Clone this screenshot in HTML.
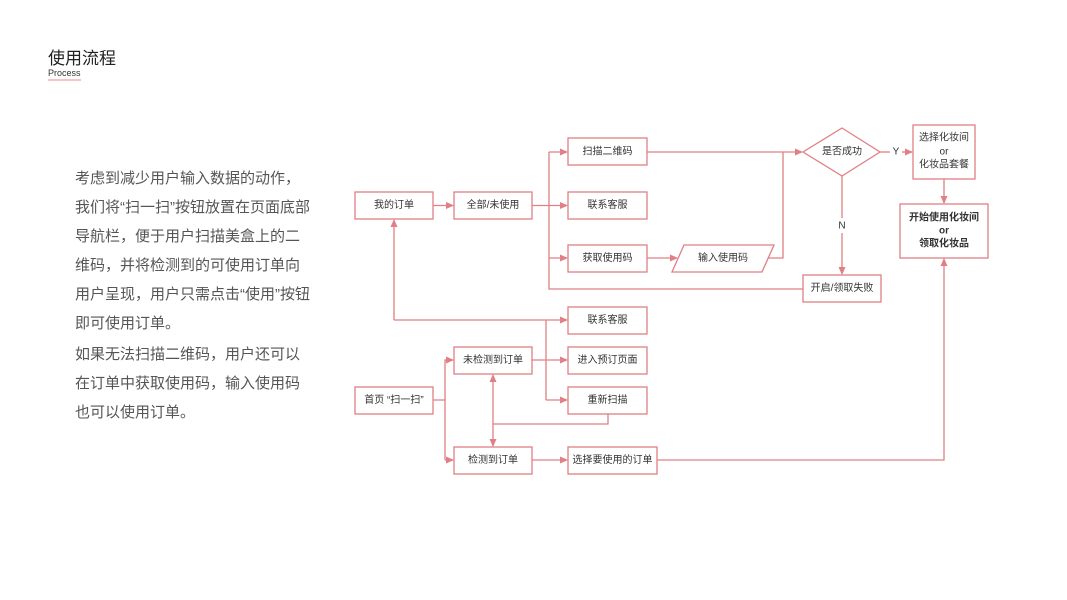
<!DOCTYPE html>
<html><head><meta charset="utf-8"><style>
html,body{margin:0;padding:0;background:#fff;width:1067px;height:600px;overflow:hidden;position:relative;font-family:"Liberation Sans","Noto Sans CJK SC",sans-serif}
.t{position:absolute;left:48px;top:44px;font-size:17px;color:#222}
.p{position:absolute;left:48px;top:68px;font-size:9px;color:#333;border-bottom:2px solid #f3c5c9;line-height:11px}
.para{position:absolute;left:75px;top:164px;font-size:15px;color:#555;line-height:29px;width:260px}
.para div{white-space:nowrap}
svg{position:absolute;left:0;top:0}
svg text{font-family:"Liberation Sans","Noto Sans CJK SC",sans-serif;font-size:10px;fill:#333;text-anchor:middle;dominant-baseline:central}
</style></head><body>
<div class="t">使用流程</div>
<div class="p">Process</div>
<div class="para">
<div>考虑到减少用户输入数据的动作，</div>
<div>我们将“扫一扫”按钮放置在页面底部</div>
<div>导航栏，便于用户扫描美盒上的二</div>
<div>维码，并将检测到的可使用订单向</div>
<div>用户呈现，用户只需点击“使用”按钮</div>
<div>即可使用订单。</div>
<div style="margin-top:2px">如果无法扫描二维码，用户还可以</div>
<div>在订单中获取使用码，输入使用码</div>
<div>也可以使用订单。</div>
</div>
<svg width="1067" height="600" viewBox="0 0 1067 600">
<defs><marker id="a" markerWidth="8" markerHeight="8" refX="7" refY="4" orient="auto" markerUnits="userSpaceOnUse"><path d="M0,0.5 L8,4 L0,7.5z" fill="#e07f86"/></marker></defs>
<g fill="#fff" stroke="#e07f86" stroke-width="1.3">
<rect x="355" y="192" width="78" height="27"/>
<rect x="454" y="192" width="78" height="27"/>
<rect x="568" y="138" width="79" height="27"/>
<rect x="568" y="192" width="79" height="27"/>
<rect x="568" y="245" width="79" height="27"/>
<polygon points="684,245 774,245 762,272 672,272"/>
<polygon points="842,128 880,152 842,176 803,152"/>
<rect x="913" y="125" width="62" height="54"/>
<rect x="900" y="204" width="88" height="54"/>
<rect x="803" y="275" width="78" height="27"/>
<rect x="568" y="307" width="79" height="27"/>
<rect x="454" y="347" width="78" height="27"/>
<rect x="568" y="347" width="79" height="27"/>
<rect x="568" y="387" width="79" height="27"/>
<rect x="355" y="387" width="78" height="27"/>
<rect x="454" y="447" width="78" height="27"/>
<rect x="568" y="447" width="89" height="27"/>
</g>
<g fill="none" stroke="#e07f86" stroke-width="1.3">
<path d="M433,205.5 H453" marker-end="url(#a)"/>
<path d="M532,205.5 H567" marker-end="url(#a)"/>
<path d="M549,152 V289 H803"/>
<path d="M549,152 H567" marker-end="url(#a)"/>
<path d="M549,258 H567" marker-end="url(#a)"/>
<path d="M647,258 H677" marker-end="url(#a)"/>
<path d="M768,258 H783 V152"/>
<path d="M647,152 H802" marker-end="url(#a)"/>
<path d="M880,152 H890" />
<path d="M902,152 H912" marker-end="url(#a)"/>
<path d="M842,176 V218" />
<path d="M842,233 V274" marker-end="url(#a)"/>
<path d="M944,179 V203" marker-end="url(#a)"/>
<path d="M657,460 H944 V259" marker-end="url(#a)"/>
<path d="M394,320 V220" marker-end="url(#a)"/>
<path d="M394,320 H567" marker-end="url(#a)"/>
<path d="M546,320 V400"/>
<path d="M532,360 H567" marker-end="url(#a)"/>
<path d="M546,400 H567" marker-end="url(#a)"/>
<path d="M433,400 H445 V460"/>
<path d="M445,400 V360 H453" marker-end="url(#a)"/>
<path d="M445,460 H453" marker-end="url(#a)"/>
<path d="M532,460 H567" marker-end="url(#a)"/>
<path d="M608,414 V424 H493"/>
<path d="M493,410 V375" marker-end="url(#a)"/>
<path d="M493,410 V446" marker-end="url(#a)"/>
</g>
<text x="394" y="205.5">我的订单</text>
<text x="493" y="205.5">全部/未使用</text>
<text x="607.5" y="152">扫描二维码</text>
<text x="607.5" y="205.5">联系客服</text>
<text x="607.5" y="258.5">获取使用码</text>
<text x="723" y="258.5">输入使用码</text>
<text x="842" y="152">是否成功</text>
<text x="896" y="152">Y</text>
<text x="842" y="226">N</text>
<text x="944" y="138">选择化妆间</text>
<text x="944" y="152">or</text>
<text x="944" y="165">化妆品套餐</text>
<text x="944" y="218" style="font-weight:bold">开始使用化妆间</text>
<text x="944" y="231" style="font-weight:bold">or</text>
<text x="944" y="244" style="font-weight:bold">领取化妆品</text>
<text x="842" y="288.5">开启/领取失败</text>
<text x="607.5" y="320.5">联系客服</text>
<text x="493" y="360.5">未检测到订单</text>
<text x="607.5" y="360.5">进入预订页面</text>
<text x="607.5" y="400.5">重新扫描</text>
<text x="394" y="400.5">首页 “扫一扫”</text>
<text x="493" y="460.5">检测到订单</text>
<text x="612.5" y="460.5">选择要使用的订单</text>
</svg>
</body></html>
